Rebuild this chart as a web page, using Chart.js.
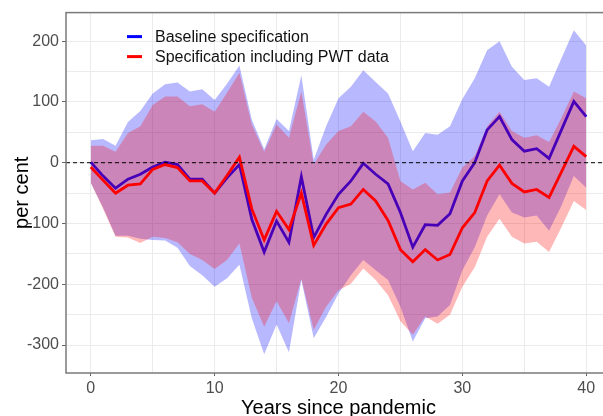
<!DOCTYPE html>
<html>
<head>
<meta charset="utf-8">
<script src="https://cdn.jsdelivr.net/npm/chart.js@4.4.0/dist/chart.umd.min.js"></script>
<style>
  html, body { margin: 0; padding: 0; background: #fff; overflow: hidden; }
  #wrap { width: 603px; height: 416px; overflow: hidden; position: relative; }
  canvas { position: absolute; left: 0; top: 0; }
</style>
</head>
<body>
<div id="wrap"><canvas id="chart" width="620" height="420"></canvas></div>
<script>
// Data
const years = [0, 1, 2, 3, 4, 5, 6, 7, 8, 9, 10, 11, 12, 13, 14, 15, 16, 17, 18, 19, 20,
  21, 22, 23, 24, 25, 26, 27, 28, 29, 30, 31, 32, 33, 34, 35, 36, 37, 38, 39, 40];

const baseline = [1, -22, -42, -27, -19, -7, 1, -3, -27, -27, -50, -25, -3, -93, -147, -96, -131, -23, -123, -85, -52,
  -30, -1, -19, -35, -82, -139, -102, -103, -84, -30, 0, 54, 76, 38, 19, 23, 7, 54, 101, 76];
const baselineUpper = [37, 39, 28, 67, 85, 114, 129, 132, 117, 121, 103, 130, 160, 71, 22, 72, 52, 144, 5, 60, 106,
  125, 152, 133, 114, 68, 19, 49, 46, 60, 105, 139, 185, 200, 158, 136, 139, 125, 172, 218, 193];
const baselineLower = [-33, -74, -120, -120, -125, -127, -128, -140, -170, -185, -204, -190, -168, -256, -315, -266, -312, -193, -289, -254, -215,
  -185, -160, -177, -193, -237, -294, -256, -253, -234, -177, -139, -87, -52, -82, -90, -87, -112, -71, -22, -41];

const pwt = [-7, -29, -50, -37, -35, -11, -3, -8, -30, -30, -50, -21, 9, -76, -127, -80, -110, -50, -136, -101, -74,
  -68, -44, -63, -95, -143, -163, -143, -160, -151, -107, -82, -30, -4, -34, -48, -44, -57, -15, 27, 10];
const pwtUpper = [28, 28, 18, 49, 60, 95, 109, 109, 93, 96, 84, 115, 148, 63, 18, 63, 41, 117, -3, 30, 52,
  60, 84, 68, 41, -30, -44, -33, -52, -49, -8, 11, 60, 84, 52, 41, 45, 34, 74, 117, 106];
const pwtLower = [-33, -76, -122, -123, -132, -122, -124, -131, -150, -160, -175, -160, -133, -222, -270, -228, -264, -191, -275, -237, -210,
  -199, -174, -193, -218, -261, -283, -253, -265, -250, -204, -172, -122, -92, -122, -133, -130, -147, -106, -63, -78];

const seriesLabels = ['Baseline specification', 'Specification including PWT data'];
const seriesColors = ['#0000ff', '#ff0000'];
const bandColors = ['rgba(0, 0, 255, 0.28)', 'rgba(255, 0, 0, 0.28)'];

const xMin = -2, xMax = 42;
const yMin = -346, yMax = 247;
const refLine = 0;

const FONT = '"Liberation Sans", Arial, sans-serif';

const pts = arr => years.map((x, i) => ({ x: x, y: arr[i] }));

// legend drawn inside the panel, like the original
const insideLegend = {
  id: 'insideLegend',
  afterDraw(chart) {
    const { ctx, chartArea } = chart;
    ctx.save();
    ctx.font = '16px ' + FONT;
    ctx.textBaseline = 'middle';
    seriesLabels.forEach((label, i) => {
      const y = chartArea.top + 24 + i * 20;
      const x = chartArea.left + 61;
      ctx.strokeStyle = seriesColors[i];
      ctx.lineWidth = 3;
      ctx.beginPath();
      ctx.moveTo(x, y);
      ctx.lineTo(x + 15, y);
      ctx.stroke();
      ctx.fillStyle = '#111';
      ctx.fillText(label, x + 28, y + 1);
    });
    ctx.restore();
  }
};

// panel border
const panelBorder = {
  id: 'panelBorder',
  afterDatasetsDraw(chart) {
    const { ctx, chartArea } = chart;
    ctx.save();
    ctx.strokeStyle = '#7a7a7a';
    ctx.lineWidth = 1.5;
    ctx.strokeRect(chartArea.left, chartArea.top, chartArea.right - chartArea.left, chartArea.bottom - chartArea.top);
    ctx.restore();
  }
};

const isMajor = (v, step) => Math.abs(v % step) < 1e-9;

new Chart(document.getElementById('chart').getContext('2d'), {
  type: 'line',
  data: {
    datasets: [
      {
        label: 'zero',
        data: [{ x: xMin, y: refLine }, { x: xMax, y: refLine }],
        borderColor: '#000',
        borderWidth: 1,
        borderDash: [4, 3],
        pointRadius: 0,
        fill: false,
        order: 0
      },
      {
        label: seriesLabels[1],
        data: pts(pwt),
        borderColor: seriesColors[1],
        borderWidth: 2.8,
        pointRadius: 0,
        fill: false,
        order: 1
      },
      {
        label: 'pwt upper',
        data: pts(pwtUpper),
        borderWidth: 0,
        pointRadius: 0,
        backgroundColor: bandColors[1],
        fill: '+1',
        order: 2
      },
      {
        label: 'pwt lower',
        data: pts(pwtLower),
        borderWidth: 0,
        pointRadius: 0,
        fill: false,
        order: 3
      },
      {
        label: seriesLabels[0],
        data: pts(baseline),
        borderColor: seriesColors[0],
        borderWidth: 2.8,
        pointRadius: 0,
        fill: false,
        order: 4
      },
      {
        label: 'baseline upper',
        data: pts(baselineUpper),
        borderWidth: 0,
        pointRadius: 0,
        backgroundColor: bandColors[0],
        fill: '+1',
        order: 5
      },
      {
        label: 'baseline lower',
        data: pts(baselineLower),
        borderWidth: 0,
        pointRadius: 0,
        fill: false,
        order: 6
      }
    ]
  },
  options: {
    responsive: false,
    animation: false,
    devicePixelRatio: 1,
    layout: { padding: { top: 11, right: 9, left: 0, bottom: 0 } },
    elements: { line: { tension: 0 } },
    plugins: {
      legend: { display: false },
      tooltip: { enabled: false }
    },
    scales: {
      x: {
        type: 'linear',
        min: xMin,
        max: xMax,
        afterFit: s => { s.height = 47; },
        grid: {
          color: '#ebebeb',
          lineWidth: 1,
          tickLength: 3,
          tickColor: c => (c.tick && isMajor(c.tick.value, 10)) ? '#666' : 'rgba(0,0,0,0)'
        },
        border: { display: false },
        ticks: {
          stepSize: 5,
          includeBounds: false,
          autoSkip: false,
          maxRotation: 0,
          padding: 3,
          color: '#4d4d4d',
          font: { family: FONT, size: 16 },
          callback: v => isMajor(v, 10) ? v : ''
        },
        title: {
          display: true,
          text: 'Years since pandemic',
          color: '#000',
          font: { family: FONT, size: 20 },
          padding: { top: 0, bottom: 0 }
        }
      },
      y: {
        type: 'linear',
        min: yMin,
        max: yMax,
        afterFit: s => { s.width = 66; },
        grid: {
          color: '#ebebeb',
          lineWidth: 1,
          tickLength: 4,
          tickColor: c => (c.tick && isMajor(c.tick.value, 100)) ? '#666' : 'rgba(0,0,0,0)'
        },
        border: { display: false },
        ticks: {
          stepSize: 50,
          includeBounds: false,
          autoSkip: false,
          padding: 3,
          color: '#4d4d4d',
          font: { family: FONT, size: 16 },
          callback: v => isMajor(v, 100) ? v : ''
        },
        title: {
          display: true,
          text: 'per cent',
          color: '#000',
          font: { family: FONT, size: 20 },
          padding: { top: 10, bottom: 0 }
        }
      }
    }
  },
  plugins: [insideLegend, panelBorder]
});
</script>
</body>
</html>
